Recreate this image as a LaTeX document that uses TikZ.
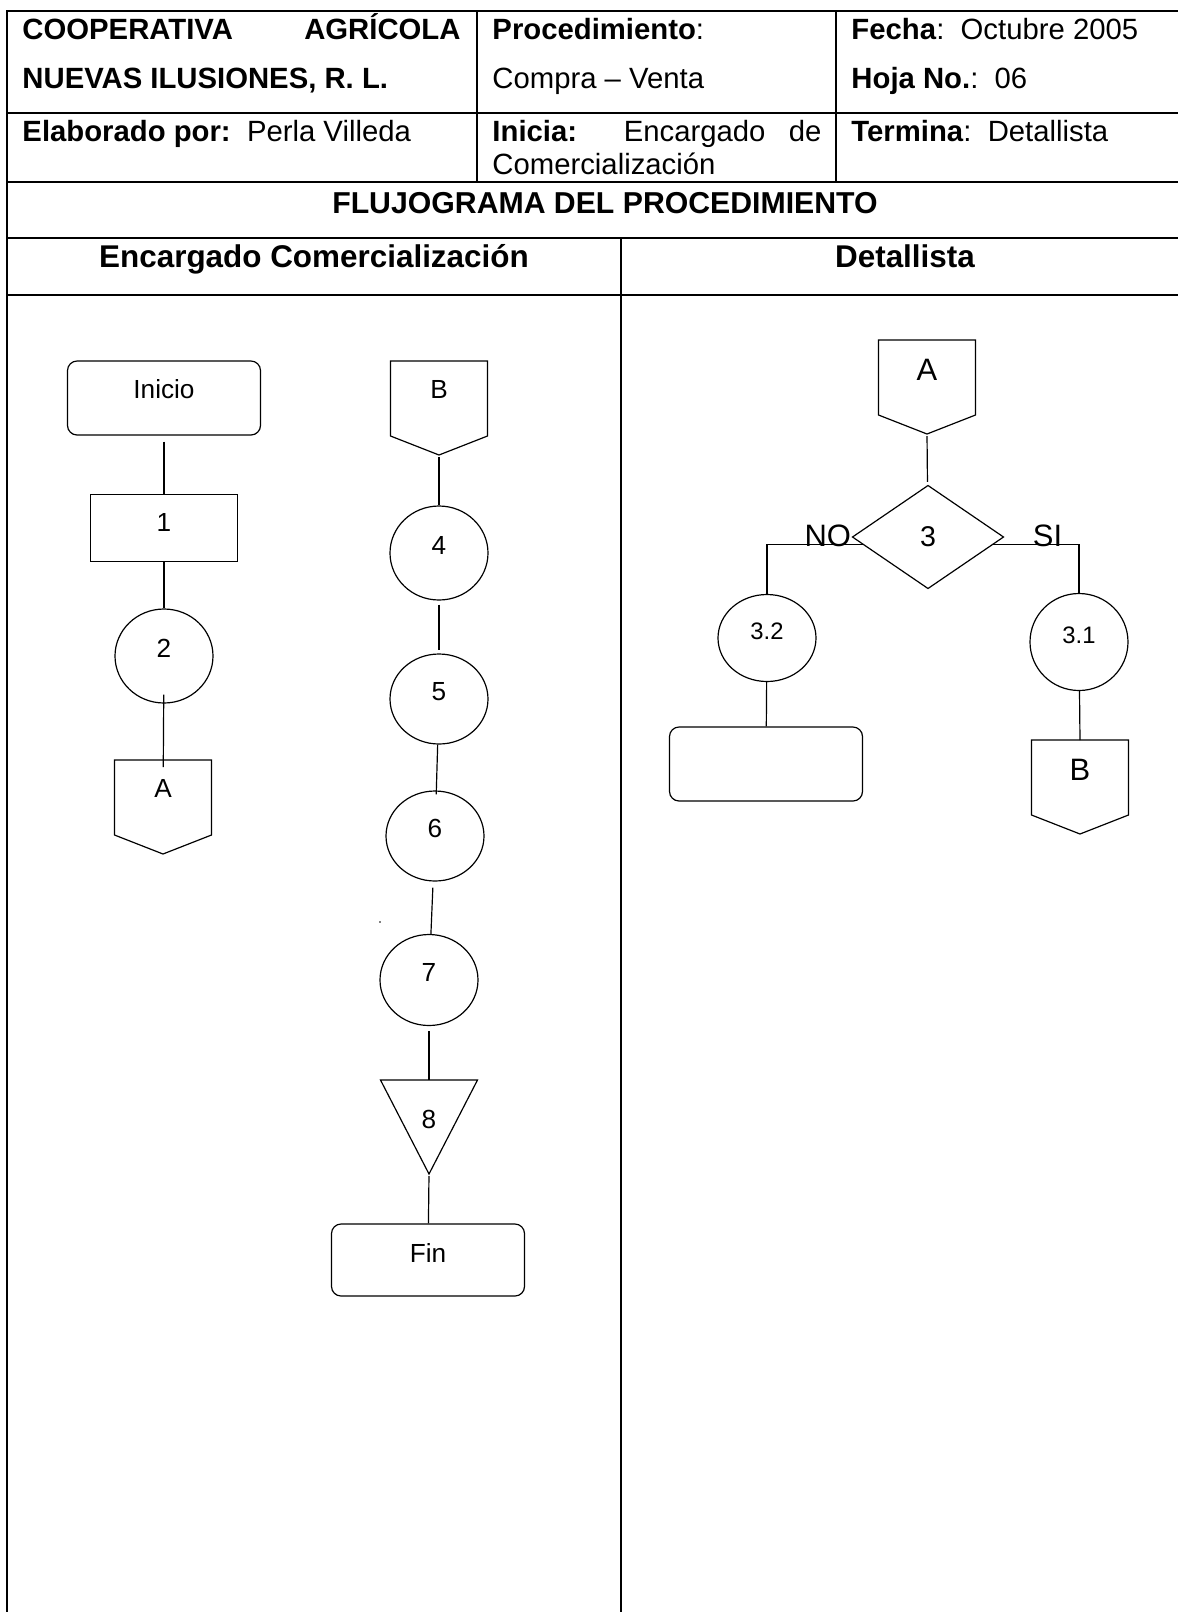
\documentclass[tikz,border=0pt]{standalone}
\usepackage{fontspec}
\setmainfont{Liberation Sans}
\usetikzlibrary{calc,shapes.geometric}
\newlength\pu
\setlength\pu{0.42pt}
\def\offpage(#1){\draw[fl] (#1.north west) -- (#1.north east) -- ($(#1.south east)+(0,-19)$) -- (#1.south) -- ($(#1.south west)+(0,-19)$) -- cycle;}
\tikzset{
	tbl/.style={line width=0.9pt, line cap=rect},
	fl/.style={line width=0.5pt},
	txt/.style={anchor=base west, inner sep=0pt, font=\fontsize{12.3}{14}\selectfont},
	hdr/.style={anchor=base, inner sep=0pt, font=\fontsize{12.7}{14}\selectfont\bfseries},
	term/.style={draw, fl, rounded corners=4pt, minimum width=193\pu, minimum height=74\pu, text depth=17\pu, font=\fontsize{11}{13}\selectfont},
	procbox/.style={draw, fl, minimum width=147\pu, minimum height=67\pu, text depth=12\pu, font=\fontsize{11}{13}\selectfont},
	opc/.style={draw, fl, ellipse, minimum width=98\pu, minimum height=94\pu, text depth=16\pu, font=\fontsize{11}{13}\selectfont},
	offpg/.style={outer sep=0pt, minimum width=97\pu, minimum height=94\pu, text depth=38\pu, font=\fontsize{11}{13}\selectfont},
	tribox/.style={outer sep=0pt, minimum width=97\pu, minimum height=94\pu, text depth=16\pu, font=\fontsize{11}{13}\selectfont},
	dec/.style={draw, fl, diamond, outer sep=0pt, minimum width=151\pu, minimum height=103\pu, font=\fontsize{12}{14}\selectfont},
	lbl/.style={inner sep=0pt, font=\fontsize{13}{15}\selectfont}
}
\begin{document}
\begin{tikzpicture}[x=0.42pt, y=-0.42pt]
	\useasboundingbox (0,0) rectangle (1178,1612);
	\draw[tbl] (7,11) -- (1178,11);
	\draw[tbl] (7,113) -- (1178,113);
	\draw[tbl] (7,182) -- (1178,182);
	\draw[tbl] (7,238) -- (1178,238);
	\draw[tbl] (7,295) -- (1178,295);
	\draw[tbl] (7,11) -- (7,1612);
	\draw[tbl] (477,11) -- (477,182);
	\draw[tbl] (836,11) -- (836,182);
	\draw[tbl] (621,238) -- (621,1612);
	
	\node[txt] (coop) at (22,39) {\makebox[438\pu][s]{\bfseries COOPERATIVA AGRÍCOLA}};
	\node[txt] (nuevas) at (22,88) {\bfseries NUEVAS ILUSIONES, R. L.};
	\node[txt] (proced) at (492,39) {\textbf{Procedimiento}:};
	\node[txt] (compra) at (492,88) {Compra – Venta};
	\node[txt] (fecha) at (851,39) {\textbf{Fecha}:~~Octubre 2005};
	\node[txt] (hoja) at (851,88) {\textbf{Hoja No.}:~~06};
	\node[txt] (elab) at (22,141) {\textbf{Elaborado por:}~~Perla Villeda};
	\node[txt] (inicia) at (492,141) {\makebox[329\pu][s]{\textbf{Inicia:}\ \ Encargado de}};
	\node[txt] (comer) at (492,174) {Comercialización};
	\node[txt] (termina) at (851,141) {\textbf{Termina}:~~Detallista};
	\node[hdr] (flujo) at (605,213) {FLUJOGRAMA DEL PROCEDIMIENTO};
	\node[hdr, font=\fontsize{13.2}{15}\selectfont\bfseries] (lane1) at (314,267) {Encargado Comercialización};
	\node[hdr, font=\fontsize{13.2}{15}\selectfont\bfseries] (lane2) at (905,267) {Detallista};
	
	\node[term] (ini) at (164,398) {Inicio};
	\node[procbox] (p1) at (164,528) {1};
	\node[opc] (c2) at (164,656) {2};
	\node[offpg] (offA) at (163,807) {A};
	\offpage(offA)
	\draw[fl, shorten <=6\pu] (ini) -- (p1);
	\draw[fl] (p1) -- (c2);
	\draw[fl, shorten <=-9\pu, shorten >=-7\pu] (c2) -- (offA);
	
	\node[offpg] (offB) at (439,408) {B};
	\offpage(offB)
	\node[opc] (c4) at (439,553) {4};
	\node[opc, minimum height=90\pu] (c5) at (439,699) {5};
	\node[opc, minimum height=90\pu] (c6) at (435,836) {6};
	\node[opc, minimum height=91\pu] (c7) at (429,980) {7};
	\node[tribox] (t8) at (429,1127) {8};
	\draw[fl] (t8.north west) -- (t8.north east) -- (t8.south) -- cycle;
	\node[term, minimum height=72\pu, text depth=15\pu] (fin) at (428,1260) {Fin};
	\fill (380,922) circle (0.8\pu);
	\draw[fl, shorten <=2\pu] (offB.south) -- (c4);
	\draw[fl, shorten <=4\pu, shorten >=3\pu] (c4) -- (c5);
	\draw[fl, shorten >=-4\pu] (c5) -- (c6);
	\draw[fl, shorten <=6\pu] (c6) -- (c7);
	\draw[fl, shorten <=5\pu] (c7) -- (t8.north);
	\draw[fl, shorten <=2\pu] (t8.south) -- (fin);
	
	\node[offpg, text depth=34\pu, font=\fontsize{13}{15}\selectfont] (offA2) at (927,387) {A};
	\offpage(offA2)
	\node[dec] (d3) at (928,537) {3};
	\node[opc, minimum height=87\pu, text depth=14\pu, font=\fontsize{10}{12}\selectfont] (c32) at (767,638) {3.2};
	\node[opc, minimum height=97\pu, text depth=14\pu, font=\fontsize{10}{12}\selectfont] (c31) at (1079,642) {3.1};
	\node[term] (box32) at (766,764) {};
	\node[offpg, text depth=34\pu, font=\fontsize{13}{15}\selectfont] (offB2) at (1080,787) {B};
	\offpage(offB2)
	\node[lbl, anchor=base east] (lno) at ($(d3.west)+(-1,9)$) {NO};
	\node[lbl, anchor=base west] (lsi) at ($(d3.east)+(29,9)$) {SI};
	\draw[fl, shorten <=2\pu, shorten >=4\pu] (offA2.south) -- (d3);
	\draw[fl] (d3.187) -| (c32.north);
	\draw[fl] (d3.-7) -| (c31.north);
	\draw[fl] (c32) -- (box32);
	\draw[fl] (c31) -- (offB2.north);
\end{tikzpicture}
\end{document}
